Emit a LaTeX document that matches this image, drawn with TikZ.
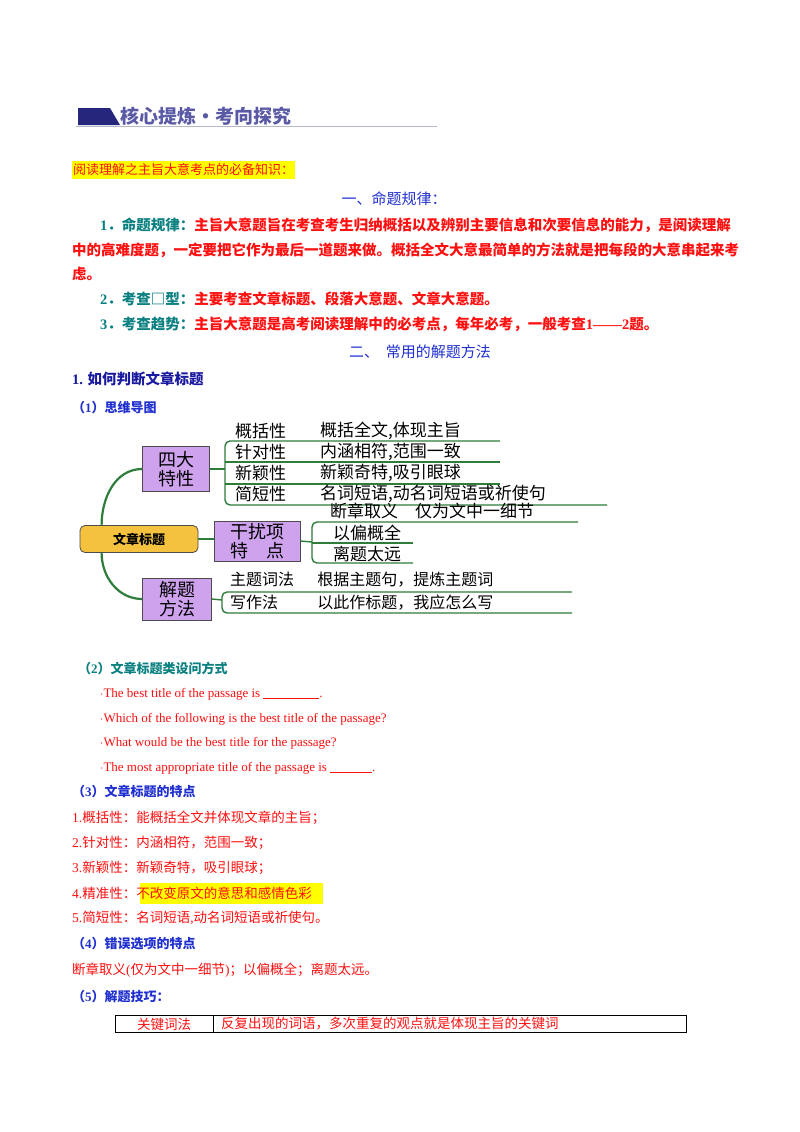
\documentclass[tikz,border=0pt]{standalone}
\usepackage{fontspec}
\setmainfont{Noto Sans CJK SC}
\newfontfamily\en{Liberation Serif}
\usetikzlibrary{positioning}
\definecolor{rd}{HTML}{FF1010}
\definecolor{tl}{HTML}{0A8080}
\definecolor{bl}{HTML}{2030D0}
\definecolor{db}{HTML}{1A1AA0}
\definecolor{gr}{HTML}{2E7D3A}
\definecolor{pu}{HTML}{CFA2EE}
\definecolor{go}{HTML}{F5C240}
\definecolor{hy}{HTML}{FFFF00}
\tikzset{
  txt/.style={anchor=west,inner sep=0pt,font=\fontsize{13.5}{16}\selectfont},
  para/.style={anchor=west,inner sep=0pt,font=\fontsize{14.5}{16}\selectfont\bfseries,text=rd},
  mm/.style={anchor=west,inner sep=0pt,font=\fontsize{17}{18}\selectfont},
  pbox/.style={draw=black!70,fill=pu,line width=0.8pt,align=center,inner sep=1pt,font=\fontsize{18}{19}\selectfont},
  br/.style={gr,line width=1.4pt,rounded corners=5pt},
}
\begin{document}
\begin{tikzpicture}[x=1pt,y=-1pt]
\useasboundingbox (0,0) rectangle (800,1132);
\fill[white] (0,0) rectangle (800,1132);
% header
\fill[blue!40!black!85] (78,108) -- (110,108) -- (120,125) -- (78,125) -- cycle;
\node[anchor=west,inner sep=0pt,font=\fontsize{19}{20}\selectfont\bfseries,text=blue!30!gray] (hd) at (120,116) {核心提炼·考向探究};
\draw[blue!15!gray!50,line width=0.8pt] (76,126) -- (437,126);
% title highlight
\node[anchor=west,fill=hy,inner xsep=1pt,inner ysep=3pt,font=\fontsize{13}{14}\selectfont,text=rd] (t0) at (72,170) {阅读理解之主旨大意考点的必备知识：};
\node[txt,font=\fontsize{15}{16}\selectfont,anchor=center,text=bl] (s1) at (394,199) {一、命题规律：};
\node[para] (p1) at (100,225) {\textcolor{tl}{{\en 1}．命题规律：}主旨大意题旨在考查考生归纳概括以及辨别主要信息和次要信息的能力，是阅读理解};
\node[para] (p1b) at (72,250) {中的高难度题，一定要把它作为最后一道题来做。概括全文大意最简单的方法就是把每段的大意串起来考};
\node[para] (p1c) at (72,274) {虑。};
\node[para] (p2) at (100,299) {\textcolor{tl}{{\en 2}．考查□型：}主要考查文章标题、段落大意题、文章大意题。};
\node[para] (p3) at (100,324) {\textcolor{tl}{{\en 3}．考查趋势：}主旨大意题是高考阅读理解中的必考点，每年必考，一般考查{\en 1——2}题。};
\node[txt,font=\fontsize{15}{16}\selectfont,anchor=center,text=bl] (s2) at (420,352) {二、\ \ 常用的解题方法};
\node[txt,font=\fontsize{14.5}{16}\selectfont\bfseries,text=db] (h1) at (72,379) {{\en 1.} 如何判断文章标题};
\node[txt,font=\fontsize{13}{16}\selectfont\bfseries,text=bl] (h11) at (72,408) {（{\en 1}）思维导图};
% mind map
\node[draw=black!70,fill=go,rounded corners=5pt,line width=0.8pt,minimum width=118pt,minimum height=27pt,font=\fontsize{13}{15}\selectfont\bfseries] (root) at (139,539) {文章标题};
\node[pbox,minimum width=67pt,minimum height=45pt] (b1) at (176,469) {四大\\特性};
\node[pbox,minimum width=86pt,minimum height=40pt] (b2) at (257,541) {干扰项\\特\quad 点};
\node[pbox,minimum width=69pt,minimum height=42pt] (b3) at (177,599) {解题\\方法};
\draw[gr,line width=2.2pt] ([xshift=22pt]root.north west) to[out=90,in=180] (b1.west);
\draw[gr,line width=2.2pt] ([xshift=22pt]root.south west) to[out=-90,in=180] (b3.west);
\draw[gr,line width=2.2pt] (root.east) -- (b2.west |- root.east);
% 四大特性 branches
\draw[gr,line width=1.4pt] (b1.east) -- (225,469);
\draw[br] (500,441) -- (225,441) -- (225,505) -- (607,505);
\draw[gr,line width=1.4pt] (225,462) -- (500,462);
\draw[gr,line width=1.4pt] (225,484) -- (500,484);
\node[mm] (a1) at (235,431) {概括性};
\node[mm] (a1r) at (320,431) {概括全文,体现主旨};
\node[mm] (a2) at (235,452) {针对性};
\node[mm] (a2r) at (320,452) {内涵相符,范围一致};
\node[mm] (a3) at (235,473) {新颖性};
\node[mm] (a3r) at (320,473) {新颖奇特,吸引眼球};
\node[mm] (a4) at (235,494) {简短性};
\node[mm] (a4r) at (320,494) {名词短语,动名词短语或祈使句};
% 干扰项 branches
\draw[gr,line width=1.4pt] (b2.east) -- (312,542);
\draw[br] (578,522) -- (312,522) -- (312,563) -- (413,563);
\draw[gr,line width=1.4pt] (312,543) -- (413,543);
\node[mm] (d1) at (330,511) {断章取义\quad 仅为文中一细节};
\node[mm] (d2) at (333,533) {以偏概全};
\node[mm] (d3) at (333,554) {离题太远};
% 解题方法 branches
\draw[gr,line width=1.4pt] (b3.east) -- (222,600);
\draw[br] (572,592) -- (222,592) -- (222,613) -- (572,613);
\node[mm,font=\fontsize{16}{18}\selectfont] (e1) at (230,580) {主题词法\quad\ \ 根据主题句，提炼主题词};
\node[mm,font=\fontsize{16}{18}\selectfont] (e2) at (230,603) {写作法\qquad\ \ 以此作标题，我应怎么写};
% (2)
\node[txt,font=\fontsize{13}{16}\selectfont\bfseries,text=tl] (h2) at (78,668) {（{\en 2}）文章标题类设问方式};
\node[txt,text=rd,font=\fontsize{13}{16}\selectfont\en] (q1) at (100,694) {$\cdot$The best title of the passage is \underline{\hspace{56pt}}.};
\node[txt,text=rd,font=\fontsize{13}{16}\selectfont\en] (q2) at (100,719) {$\cdot$Which of the following is the best title of the passage?};
\node[txt,text=rd,font=\fontsize{13}{16}\selectfont\en] (q3) at (100,743) {$\cdot$What would be the best title for the passage?};
\node[txt,text=rd,font=\fontsize{13}{16}\selectfont\en] (q4) at (100,768) {$\cdot$The most appropriate title of the passage is \underline{\hspace{42pt}}.};
% (3)
\node[txt,font=\fontsize{13}{16}\selectfont\bfseries,text=bl] (h3) at (72,792) {（{\en 3}）文章标题的特点};
\node[txt,text=rd] (f1) at (72,818) {{\en 1.}概括性：能概括全文并体现文章的主旨；};
\node[txt,text=rd] (f2) at (72,843) {{\en 2.}针对性：内涵相符，范围一致；};
\node[txt,text=rd] (f3) at (72,868) {{\en 3.}新颖性：新颖奇特，吸引眼球；};
\fill[hy] (140,883) rectangle (323,904);
\node[txt,text=rd] (f4) at (72,893) {{\en 4.}精准性：不改变原文的意思和感情色彩};
\node[txt,text=rd] (f5) at (72,918) {{\en 5.}简短性：名词短语{\en ,}动名词短语或祈使句。};
% (4)
\node[txt,font=\fontsize{13}{16}\selectfont\bfseries,text=bl] (h4) at (72,944) {（{\en 4}）错误选项的特点};
\node[txt,text=rd] (g1) at (72,970) {断章取义{\en (}仅为文中一细节{\en )}；以偏概全；离题太远。};
% (5)
\node[txt,font=\fontsize{13}{16}\selectfont\bfseries,text=bl] (h5) at (72,997) {（{\en 5}）解题技巧：};
\draw[line width=0.9pt] (115,1015) rectangle (686,1032);
\draw[line width=0.7pt] (213,1015) -- (213,1032);
\node[txt,anchor=center,text=rd] (k1) at (164,1024) {关键词法};
\node[txt,text=rd] (k2) at (221,1024) {反复出现的词语，多次重复的观点就是体现主旨的关键词};
\end{tikzpicture}
\end{document}
